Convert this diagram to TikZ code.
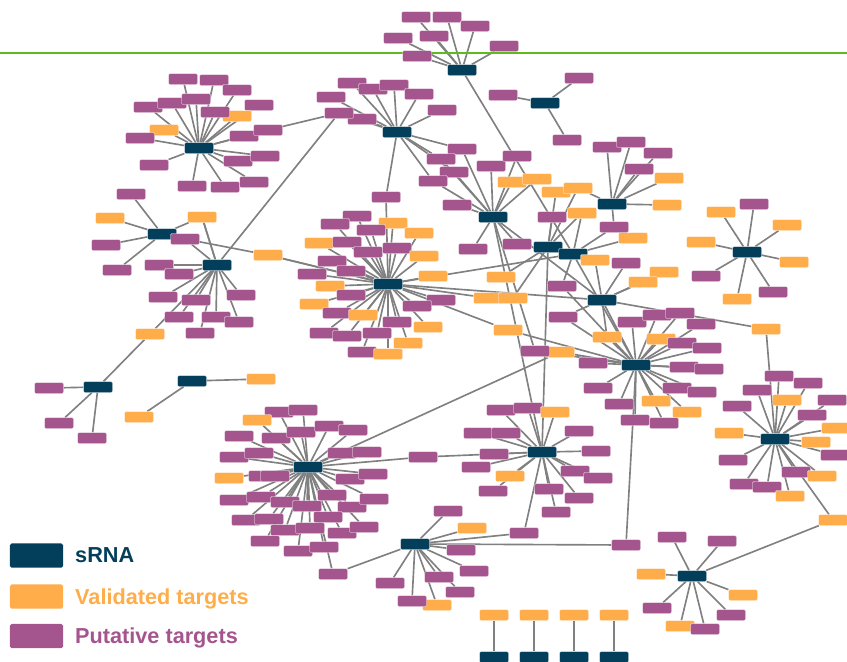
\documentclass[tikz,border=0pt]{standalone}
\usepackage{fontspec}
\setmainfont{Liberation Sans}
\definecolor{S}{HTML}{033E5B}
\definecolor{O}{HTML}{FFAD4A}
\definecolor{P}{HTML}{A5558D}
\definecolor{linkgray}{HTML}{808080}
\definecolor{topline}{HTML}{5DBB1F}
\pgfdeclarelayer{bg}
\pgfsetlayers{bg,main}
\tikzset{
  box/.style={rectangle, rounded corners=0.4mm, minimum width=8.7mm, minimum height=3.3mm, inner sep=0pt, draw=white, line width=0.2pt},
  srna/.style={box, fill=S},
  valid/.style={box, fill=O},
  puta/.style={box, fill=P},
  link/.style={draw=linkgray, line width=1.4pt},
  key/.style={rectangle, rounded corners=0.5mm, minimum width=15.9mm, minimum height=7.3mm, inner sep=0pt},
  keytext/.style={anchor=base west, inner sep=0pt, font=\fontsize{18.5}{20}\selectfont\bfseries},
}
\newcommand\hubleaves[2]{%
  \foreach \x/\y/\c [count=\i] in {#2} {
    \node[box, fill=\c] (#1-\i) at (\x,\y) {};
    \begin{pgfonlayer}{bg}\draw[link] (#1) -- (#1-\i);\end{pgfonlayer}
  }}
\newcommand\bridge[3]{%
  \begin{pgfonlayer}{bg}\draw[link] (#1) -- (#2) -- (#3);\end{pgfonlayer}}
\begin{document}
\begin{tikzpicture}[x=0.3mm, y=-0.3mm]
\useasboundingbox (0,0) rectangle (847,661);
\draw[topline, line width=0.9pt] (0,53) -- (847,53);

\node[srna] (h1) at (462,70) {};
\node[srna] (h2) at (545,103) {};
\node[srna] (h3) at (199,148) {};
\node[srna] (h4) at (397,132) {};
\node[srna] (h5) at (162,234) {};
\node[srna] (h6) at (217,265) {};
\node[srna] (h7) at (388,284) {};
\node[srna] (h8) at (493,217) {};
\node[srna] (h9) at (612,204) {};
\node[srna] (h10) at (548,247) {};
\node[srna] (h11) at (573,254) {};
\node[srna] (h12) at (602,300) {};
\node[srna] (h13) at (747,252) {};
\node[srna] (h14) at (636,365) {};
\node[srna] (h15) at (775,439) {};
\node[srna] (h16) at (98,387) {};
\node[srna] (h17) at (192,381) {};
\node[srna] (h18) at (308,467) {};
\node[srna] (h19) at (542,452) {};
\node[srna] (h20) at (415,544) {};
\node[srna] (h21) at (692,576) {};

\hubleaves{h1}{416/17/P,447/17/P,475/26/P,398/38/P,434/36/P,417/56/P,504/46/P}
\hubleaves{h2}{503/95/P,579/78/P,567/140/P}
\hubleaves{h3}{183/79/P,214/80/P,237/90/P,148/107/P,172/103/P,196/99/P,259/105/P,237/116/O,215/112/P,164/130/O,140/138/P,244/136/P,154/165/P,238/161/P,265/156/P,192/186/P,225/187/P,254/182/P}
\hubleaves{h4}{352/83/P,373/89/P,394/85/P,331/97/P,419/94/P,362/119/P,442/110/P}
\hubleaves{h5}{131/194/P,110/218/O,106/245/P,117/270/P}
\hubleaves{h6}{159/265/P,179/274/P,163/297/P,196/300/P,241/295/P,179/317/P,216/317/P,239/322/P,200/333/P}
\hubleaves{h16}{49/388/P,59/423/P,92/438/P}
\hubleaves{h17}{261/379/O,139/417/O}
\hubleaves{h7}{357/216/P,335/224/P,393/223/O,371/230/P,419/233/O,319/243/O,347/242/P,368/252/P,397/248/P,424/256/O,332/261/P,312/274/P,351/271/P,433/276/O,330/286/O,314/304/O,351/295/P,488/298/O,441/300/P,417/306/P,337/313/P,363/315/O,397/322/P,324/333/P,347/336/P,377/333/P,428/327/O,408/343/O,362/352/P,388/354/O}
\hubleaves{h8}{491/166/P,517/156/P,457/205/P,473/249/P,512/182/O,537/179/O,517/244/P}
\hubleaves{h9}{607/147/P,631/142/P,658/153/P,639/169/P,669/178/O,667/205/O}
\hubleaves{h10}{552/217/P,556/192/O,501/277/O,513/298/O}
\hubleaves{h11}{633/238/O}
\hubleaves{h12}{664/272/O,643/282/O,595/260/O,626/263/P}
\hubleaves{h13}{721/212/O,754/204/P,787/225/O,701/242/O,794/262/O,706/276/P,737/299/O,773/292/P}
\hubleaves{h14}{632/322/P,657/315/P,680/313/P,701/324/P,661/339/O,682/343/P,707/348/P,593/363/P,684/367/P,709/369/P,598/388/P,677/388/P,702/392/P,619/404/P,656/401/O,687/412/O,635/420/P,664/423/P}
\hubleaves{h15}{779/376/P,808/383/P,757/390/P,787/400/O,832/400/P,737/406/P,812/415/P,836/428/O,729/433/O,816/442/O,835/455/P,733/460/P,796/472/P,822/476/O,744/484/P,767/487/P,790/496/O}
\hubleaves{h18}{279/412/P,303/410/P,257/420/O,239/436/P,276/438/P,301/432/P,329/426/P,353/430/P,234/457/P,259/453/P,342/453/P,367/452/P,229/478/O,263/476/P,275/476/P,350/479/P,373/474/P,234/500/P,261/497/P,285/502/P,307/506/P,332/495/P,352/507/P,374/499/P,246/520/P,269/519/P,285/530/P,310/528/P,328/517/P,342/533/P,364/527/P,265/541/P,298/551/P,324/547/P}
\hubleaves{h19}{501/410/P,528/408/P,555/412/O,478/433/P,506/433/P,579/431/P,494/454/P,596/451/P,476/467/P,575/471/P,598/478/P,510/476/O,493/491/P,549/489/P,579/498/P,556/512/P}
\hubleaves{h20}{448/511/P,472/528/O,461/550/P,474/571/P,439/577/P,460/592/P,437/605/O,412/601/P,390/583/P}
\hubleaves{h21}{672/537/P,722/541/P,651/574/O,743/595/O,657/608/P,731/615/P,680/626/O,705/629/P}

\node[puta] (b1) at (268,130) {};
\node[puta] (b2) at (339,113) {};
\node[puta] (b3) at (386,197) {};
\node[puta] (b4) at (185,239) {};
\node[valid] (b5) at (268,255) {};
\node[valid] (b6) at (202,217) {};
\node[valid] (b7) at (150,334) {};
\node[puta] (c1) at (462,149) {};
\node[puta] (c2) at (441,159) {};
\node[puta] (c3) at (454,172) {};
\node[puta] (c4) at (433,181) {};
\node[valid] (d1) at (578,188) {};
\node[valid] (d2) at (582,213) {};
\node[puta] (d3) at (614,227) {};
\node[valid] (e1) at (766,329) {};
\node[valid] (e2) at (833,520) {};
\node[puta] (f1) at (626,545) {};
\node[valid] (g1) at (560,352) {};
\node[puta] (g2) at (535,351) {};
\node[puta] (g3) at (423,457) {};
\node[puta] (g4) at (524,533) {};
\node[puta] (g5) at (333,574) {};
\node[valid] (m1) at (607,337) {};
\node[puta] (m2) at (563,317) {};
\node[valid] (n1) at (508,330) {};
\node[puta] (n2) at (562,286) {};

\bridge{h3}{b1}{b2}
\bridge{b2}{h4}{b3}
\bridge{b2}{h6}{b6}
\bridge{b3}{h7}{b5}
\bridge{h5}{b4}{h6}
\bridge{b4}{b5}{h7}
\bridge{h5}{b6}{h6}
\bridge{h6}{b7}{h16}
\bridge{h4}{c1}{h8}
\bridge{h4}{c2}{h8}
\bridge{h4}{c3}{h8}
\bridge{h4}{c4}{h8}
\bridge{h9}{d1}{h10}
\bridge{h10}{d2}{h11}
\bridge{h9}{d3}{h11}
\bridge{h12}{e1}{h15}
\bridge{h15}{e2}{h21}
\bridge{h14}{f1}{h20}
\bridge{h18}{g1}{h14}
\bridge{h8}{g2}{h14}
\bridge{h18}{g3}{h19}
\bridge{h19}{g4}{h20}
\bridge{h18}{g5}{h20}
\bridge{h12}{m1}{h14}
\bridge{h12}{m2}{h14}
\bridge{h7}{n1}{h14}
\bridge{h11}{n2}{h14}
\begin{pgfonlayer}{bg}
\draw[link] (h1) -- (h11);
\draw[link] (h7) -- (h11);
\draw[link] (h7) -- (h12);
\draw[link] (h8) -- (h12);
\draw[link] (h8) -- (h19);
\draw[link] (h10) -- (h19);
\draw[link] (h11) -- (h14);
\draw[link] (h12) -- (h14);
\end{pgfonlayer}

\node[valid] (v1) at (494,615) {};
\node[valid] (v2) at (534,615) {};
\node[valid] (v3) at (574,615) {};
\node[valid] (v4) at (614,615) {};
\node[srna] (s1) at (494,657) {};
\node[srna] (s2) at (534,657) {};
\node[srna] (s3) at (574,657) {};
\node[srna] (s4) at (614,657) {};
\begin{pgfonlayer}{bg}
\foreach \k in {1,...,4} \draw[link] (v\k) -- (s\k);
\end{pgfonlayer}

\node[key, fill=S] (k1) at (36.5,555.5) {};
\node[key, fill=O] (k2) at (36.5,596.5) {};
\node[key, fill=P] (k3) at (36.5,636) {};
\node[keytext, text=S] (t1) at (75,562) {sRNA};
\node[keytext, text=O] (t2) at (75,604) {Validated targets};
\node[keytext, text=P] (t3) at (75,643) {Putative targets};
\end{tikzpicture}
\end{document}
